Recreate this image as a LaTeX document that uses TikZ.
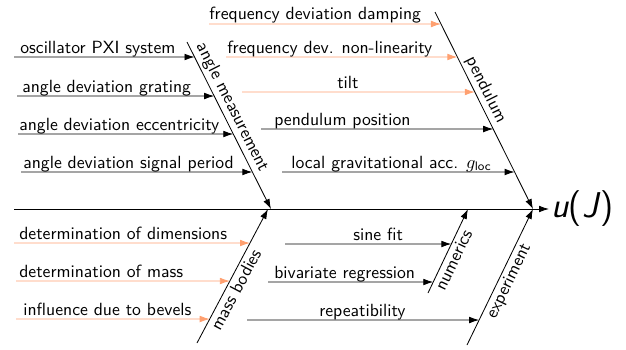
\documentclass[tikz,border=0pt]{standalone}
\usepackage{amsmath}
\usetikzlibrary{arrows.meta}
\definecolor{salmon}{HTML}{FFA070}
\tikzset{
  cause/.style={draw=black, line width=0.5pt, -{Latex[length=6pt,width=4pt]}},
  soft/.style={cause, draw=salmon},
  lbl/.style={anchor=base west, inner sep=0pt, font=\sffamily\fontsize{10.6}{13}\selectfont},
  cat/.style={font=\sffamily\fontsize{10.6}{13}\selectfont, sloped, inner sep=1.5pt},
}
\begin{document}
\begin{tikzpicture}[x=0.6pt, y=-0.6pt]
  \useasboundingbox (0,0) rectangle (626,349);
  % spine and effect
  \node[anchor=west, inner sep=1pt, font=\sffamily\fontsize{21.5}{24}\selectfont] (effect) at (549,209)
    {\textsl{u}(\textsl{J})};
  \coordinate (tail) at (14,209);
  \draw[cause] (tail) -- (effect.west);
  % main bones
  \coordinate (amT) at (187,42);  \coordinate (amB) at (271,209);
  \coordinate (peT) at (435,12);  \coordinate (peB) at (533,209);
  \coordinate (mbB) at (197,343); \coordinate (mbT) at (268,209);
  \coordinate (nuB) at (428,293); \coordinate (nuT) at (468,209);
  \coordinate (exB) at (467,345); \coordinate (exT) at (533,209);
  \draw[cause] (amT) -- (amB) node[cat, above, pos=.42] {angle measurement};
  \draw[cause] (peT) -- (peB) node[cat, above, pos=.42] {pendulum};
  \draw[cause] (mbB) -- (mbT) node[cat, below, pos=.43] {mass bodies};
  \draw[cause] (nuB) -- (nuT) node[cat, below, pos=.44] {numerics};
  \draw[cause] (exB) -- (exT) node[cat, below, pos=.50] {experiment};
  % angle measurement
  \foreach \x/\y/\tx/\txt in {14/57/20/oscillator PXI system,
      17/96/22/angle deviation grating,
      18/134/19/angle deviation eccentricity,
      21/172/23/angle deviation signal period}
  {
    \path (\x,\y) coordinate (s) (640,\y) coordinate (e);
    \draw[cause] (s) -- (intersection of s--e and amT--amB);
    \node[lbl] at (\tx,\y-4) {\txt};
  }
  % pendulum
  \foreach \x/\y/\tx/\txt in {209/24/209/frequency deviation damping,
      226/57/227/frequency dev. non-linearity,
      242/92/337/tilt}
  {
    \path (\x,\y) coordinate (s) (640,\y) coordinate (e);
    \draw[soft] (s) -- (intersection of s--e and peT--peB);
    \node[lbl] at (\tx,\y-4) {\txt};
  }
  \foreach \x/\y/\tx/\txt in {261/129/274/pendulum position,
      282/172/291/local gravitational acc. $g_{\textsf{loc}}$}
  {
    \path (\x,\y) coordinate (s) (640,\y) coordinate (e);
    \draw[cause] (s) -- (intersection of s--e and peT--peB);
    \node[lbl] at (\tx,\y-4) {\txt};
  }
  % mass bodies
  \foreach \x/\y/\tx/\txt in {14/243/19/determination of dimensions,
      16/281/19/determination of mass,
      16/319/23/influence due to bevels}
  {
    \path (\x,\y) coordinate (s) (640,\y) coordinate (e);
    \draw[soft] (s) -- (intersection of s--e and mbB--mbT);
    \node[lbl] at (\tx,\y-4) {\txt};
  }
  % numerics
  \foreach \x/\y/\tx/\txt in {285/244/353/sine fit,
      268/282/274/bivariate regression}
  {
    \path (\x,\y) coordinate (s) (640,\y) coordinate (e);
    \draw[cause] (s) -- (intersection of s--e and nuB--nuT);
    \node[lbl] at (\tx,\y-4) {\txt};
  }
  % experiment
  \path (247,320) coordinate (s) (640,320) coordinate (e);
  \draw[cause] (s) -- (intersection of s--e and exB--exT);
  \node[lbl] at (319,316) {repeatibility};
\end{tikzpicture}
\end{document}
